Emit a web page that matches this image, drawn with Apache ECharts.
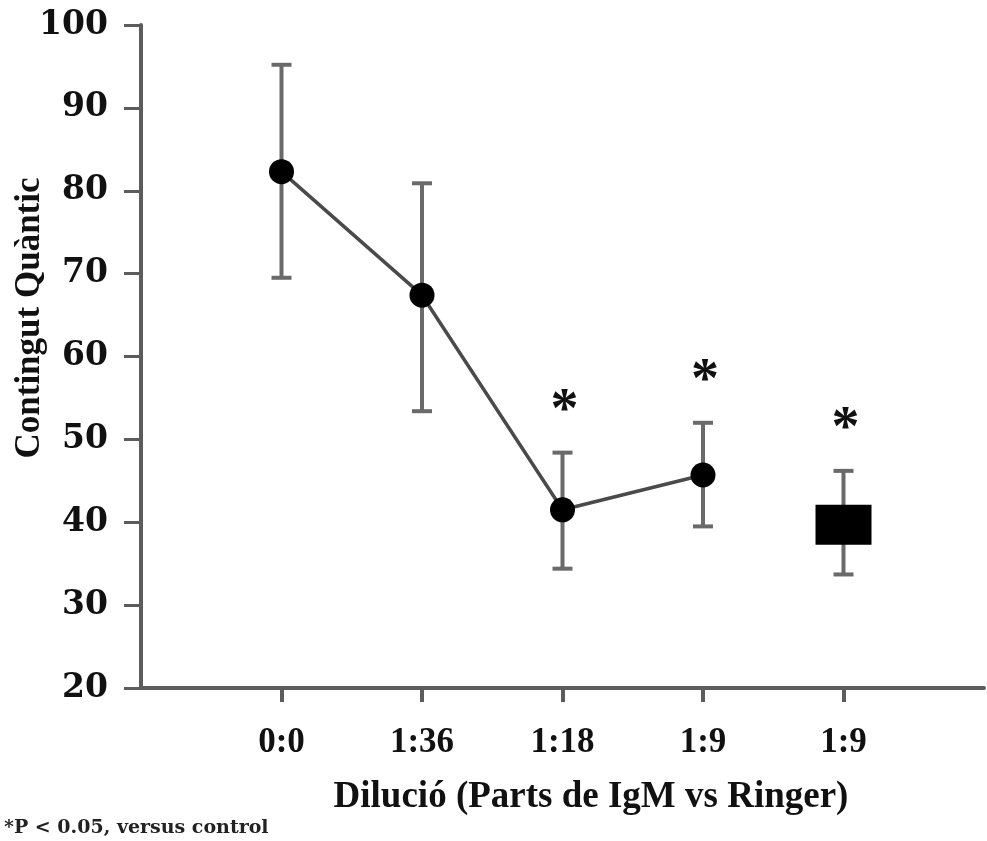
<!DOCTYPE html>
<html>
<head>
<meta charset="utf-8">
<script src="https://cdn.jsdelivr.net/npm/echarts@6/dist/echarts.min.js"></script>
<style>
  html, body { margin: 0; padding: 0; background: #fff; }
  #chart { width: 987px; height: 841px; }
</style>
</head>
<body>
<div id="chart"></div>
<script>
// dades llegides de la figura
const categories = ['0:0', '1:36', '1:18', '1:9', '1:9'];
const means = [82.3, 67.4, 41.5, 45.7, 39.7];
const upper = [95.2, 80.9, 48.4, 52.0, 46.2];
const lower = [69.5, 53.4, 34.4, 39.5, 33.7];
const significant = [false, false, true, true, true];
const lineCount = 4;            // els 4 primers punts van units
const yTicks = [20, 30, 40, 50, 60, 70, 80, 90, 100];

const axisColor = '#5c5c5c';
const errColor = '#6a6a6a';

// eix de categories amb un buit a cada extrem
const xData = [''].concat(categories, ['']);

const linePts = [];
const squarePts = [];
const errPts = [];
const starPts = [];
for (let i = 0; i < categories.length; i++) {
  const x = i + 1;
  if (i < lineCount) linePts.push([x, means[i]]);
  else squarePts.push([x, means[i]]);
  errPts.push([x, lower[i], upper[i]]);
  if (significant[i]) starPts.push([x, upper[i]]);
}

let myChart = echarts.init(document.getElementById('chart'));
myChart.setOption({
  animation: false,
  backgroundColor: '#fff',
  grid: { left: 141, right: 0, top: 25, bottom: 153 },
  xAxis: {
    type: 'category',
    data: xData,
    boundaryGap: false,
    axisLine: { lineStyle: { color: axisColor, width: 4 } },
    axisTick: {
      interval: (idx) => idx > 0 && idx < xData.length - 1,
      length: 14,
      lineStyle: { color: axisColor, width: 4 }
    },
    axisLabel: {
      interval: 0,
      margin: 37,
      fontFamily: 'Liberation Serif',
      fontWeight: 'bold',
      fontSize: 35,
      color: '#111'
    },
    splitLine: { show: false }
  },
  yAxis: {
    type: 'value',
    min: yTicks[0],
    max: yTicks[yTicks.length - 1],
    interval: 10,
    axisLine: { show: true, lineStyle: { color: axisColor, width: 4 } },
    axisTick: { show: true, length: 17, lineStyle: { color: axisColor, width: 3 } },
    axisLabel: {
      margin: 33,
      fontFamily: 'DejaVu Serif',
      fontWeight: 'bold',
      fontSize: 33,
      color: '#111'
    },
    splitLine: { show: false }
  },
  graphic: [
    {
      type: 'text',
      x: 30, y: 318,
      rotation: Math.PI / 2,
      style: {
        text: 'Contingut Quàntic',
        font: 'bold 35px "Liberation Serif"',
        fill: '#111',
        align: 'center',
        verticalAlign: 'middle'
      }
    },
    {
      type: 'text',
      x: 591, y: 797,
      style: {
        text: 'Dilució (Parts de IgM vs Ringer)',
        font: 'bold 37px "Liberation Serif"',
        fill: '#111',
        align: 'center',
        verticalAlign: 'middle'
      }
    },
    {
      type: 'text',
      x: 4, y: 828,
      style: {
        text: '*P < 0.05, versus control',
        font: 'bold 19px "DejaVu Serif"',
        fill: '#222',
        align: 'left',
        verticalAlign: 'middle'
      }
    }
  ],
  series: [
    {
      // barres d'error
      type: 'custom',
      data: errPts,
      z: 2,
      renderItem: function (params, api) {
        const x = api.value(0);
        const lo = api.coord([x, api.value(1)]);
        const hi = api.coord([x, api.value(2)]);
        const cap = 10;
        const st = { stroke: errColor, lineWidth: 4 };
        return {
          type: 'group',
          children: [
            { type: 'line', shape: { x1: lo[0], y1: lo[1], x2: hi[0], y2: hi[1] }, style: st },
            { type: 'line', shape: { x1: hi[0] - cap, y1: hi[1], x2: hi[0] + cap, y2: hi[1] }, style: st },
            { type: 'line', shape: { x1: lo[0] - cap, y1: lo[1], x2: lo[0] + cap, y2: lo[1] }, style: st }
          ]
        };
      }
    },
    {
      type: 'line',
      data: linePts,
      z: 3,
      symbol: 'circle',
      symbolSize: 25,
      itemStyle: { color: '#000' },
      lineStyle: { color: '#4a4a4a', width: 3.5 }
    },
    {
      type: 'scatter',
      data: squarePts,
      z: 3,
      symbol: 'rect',
      symbolSize: [56, 40],
      itemStyle: { color: '#000', opacity: 1 }
    },
    {
      // asteriscs de significació
      type: 'custom',
      data: starPts,
      z: 4,
      renderItem: function (params, api) {
        const p = api.coord([api.value(0), api.value(1)]);
        return {
          type: 'text',
          x: p[0] + 2,
          y: p[1] - 40,
          style: {
            text: '*',
            font: 'bold 56px "Liberation Serif"',
            fill: '#111',
            align: 'center',
            verticalAlign: 'middle'
          }
        };
      }
    }
  ]
});
</script>
</body>
</html>
